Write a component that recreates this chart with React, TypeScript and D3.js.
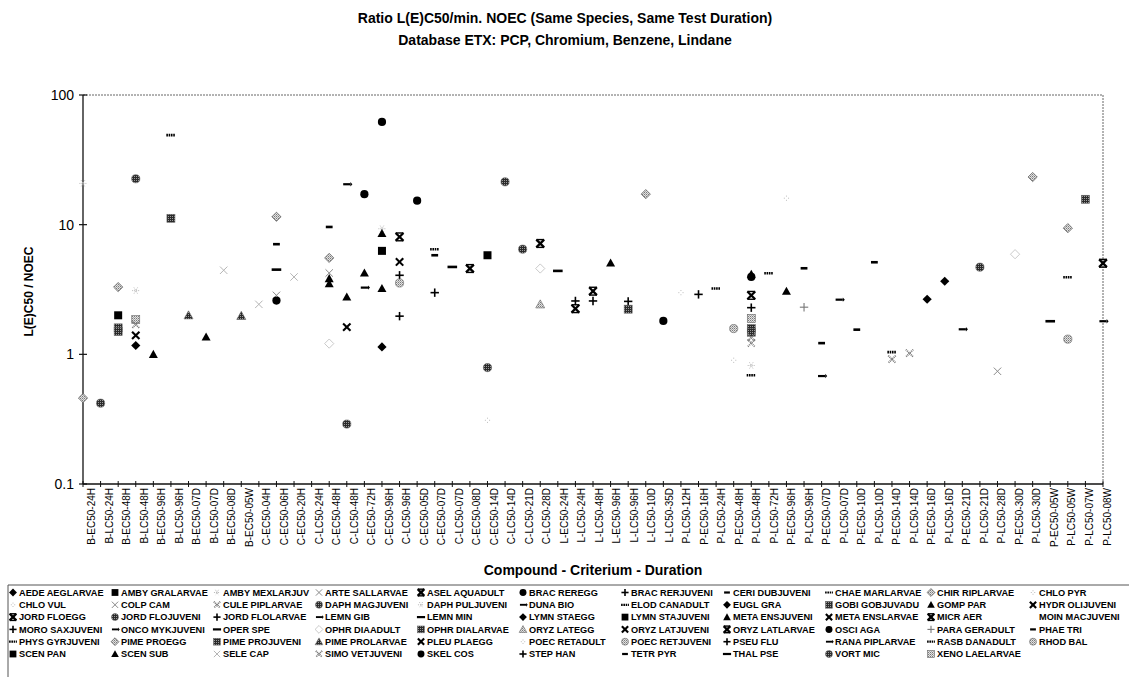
import React from "react";
import * as d3 from "d3";

// Test endpoint categories: compound (B = benzene, C = chromium, L = lindane, P = PCP) - criterion - duration
const categories = [
  "B-EC50-24H", "B-LC50-24H", "B-EC50-48H", "B-LC50-48H", "B-EC50-96H", "B-LC50-96H",
  "B-EC50-07D", "B-LC50-07D", "B-EC50-08D", "B-EC50-05W", "C-EC50-04H", "C-EC50-06H",
  "C-EC50-20H", "C-LC50-24H", "C-EC50-48H", "C-LC50-48H", "C-EC50-72H", "C-EC50-96H",
  "C-LC50-96H", "C-EC50-05D", "C-EC50-07D", "C-LC50-07D", "C-EC50-08D", "C-EC50-14D",
  "C-LC50-14D", "C-LC50-21D", "C-LC50-28D", "L-EC50-24H", "L-LC50-24H", "L-LC50-48H",
  "L-EC50-96H", "L-LC50-96H", "L-LC50-10D", "L-LC50-35D", "P-LC50-12H", "P-EC50-16H",
  "P-LC50-24H", "P-EC50-48H", "P-LC50-48H", "P-LC50-72H", "P-EC50-96H", "P-LC50-96H",
  "P-EC50-07D", "P-LC50-07D", "P-EC50-10D", "P-LC50-10D", "P-EC50-14D", "P-LC50-14D",
  "P-EC50-16D", "P-LC50-16D", "P-EC50-21D", "P-LC50-21D", "P-LC50-28D", "P-EC50-30D",
  "P-LC50-30D", "P-EC50-05W", "P-LC50-05W", "P-LC50-07W", "P-LC50-08W",
];

// Species in legend order (row by row, 11 per row)
const legendSpecies = [
  "AEDE AEGLARVAE", "AMBY GRALARVAE", "AMBY MEXLARJUV", "ARTE SALLARVAE", "ASEL AQUADULT",
  "BRAC REREGG", "BRAC RERJUVENI", "CERI DUBJUVENI", "CHAE MARLARVAE", "CHIR RIPLARVAE", "CHLO PYR",
  "CHLO VUL", "COLP CAM", "CULE PIPLARVAE", "DAPH MAGJUVENI", "DAPH PULJUVENI",
  "DUNA BIO", "ELOD CANADULT", "EUGL GRA", "GOBI GOBJUVADU", "GOMP PAR", "HYDR OLIJUVENI",
  "JORD FLOEGG", "JORD FLOJUVENI", "JORD FLOLARVAE", "LEMN GIB", "LEMN MIN",
  "LYMN STAEGG", "LYMN STAJUVENI", "META ENSJUVENI", "META ENSLARVAE", "MICR AER", "MOIN MACJUVENI",
  "MORO SAXJUVENI", "ONCO MYKJUVENI", "OPER SPE", "OPHR DIAADULT", "OPHR DIALARVAE",
  "ORYZ LATEGG", "ORYZ LATJUVENI", "ORYZ LATLARVAE", "OSCI AGA", "PARA GERADULT", "PHAE TRI",
  "PHYS GYRJUVENI", "PIME PROEGG", "PIME PROJUVENI", "PIME PROLARVAE", "PLEU PLAEGG",
  "POEC RETADULT", "POEC RETJUVENI", "PSEU FLU", "RANA PIPLARVAE", "RASB DANADULT", "RHOD BAL",
  "SCEN PAN", "SCEN SUB", "SELE CAP", "SIMO VETJUVENI", "SKEL COS",
  "STEP HAN", "TETR PYR", "THAL PSE", "VORT MIC", "XENO LAELARVAE",
];

// [category, species, L(E)C50 / min. NOEC ratio]
const benzeneRatios: [string, string, number][] = [
  ["B-EC50-24H", "CHIR RIPLARVAE", 0.46],
  ["B-EC50-24H", "AMBY MEXLARJUV", 20.8],
  ["B-LC50-24H", "DAPH MAGJUVENI", 0.42],
  ["B-EC50-48H", "PIME PROEGG", 3.3],
  ["B-EC50-48H", "AMBY GRALARVAE", 2.0],
  ["B-EC50-48H", "GOBI GOBJUVADU", 1.6],
  ["B-EC50-48H", "PIME PROJUVENI", 1.5],
  ["B-LC50-48H", "VORT MIC", 22.6],
  ["B-LC50-48H", "DAPH PULJUVENI", 3.1],
  ["B-LC50-48H", "XENO LAELARVAE", 1.85],
  ["B-LC50-48H", "CULE PIPLARVAE", 1.7],
  ["B-LC50-48H", "ORYZ LATJUVENI", 1.4],
  ["B-LC50-48H", "AEDE AEGLARVAE", 1.17],
  ["B-EC50-96H", "SCEN SUB", 1.0],
  ["B-LC50-96H", "RASB DANADULT", 49],
  ["B-LC50-96H", "PIME PROJUVENI", 11.2],
  ["B-EC50-07D", "PIME PROLARVAE", 2.0],
  ["B-LC50-07D", "META ENSJUVENI", 1.36],
  ["B-EC50-08D", "SELE CAP", 4.45],
  ["B-EC50-05W", "PIME PROLARVAE", 1.98],
];

const chromiumRatios: [string, string, number][] = [
  ["C-EC50-04H", "SELE CAP", 2.43],
  ["C-EC50-06H", "CHIR RIPLARVAE", 11.5],
  ["C-EC50-06H", "CERI DUBJUVENI", 7.07],
  ["C-EC50-06H", "OPER SPE", 4.5],
  ["C-EC50-06H", "ARTE SALLARVAE", 2.85],
  ["C-EC50-06H", "BRAC REREGG", 2.6],
  ["C-EC50-20H", "SELE CAP", 3.95],
  ["C-EC50-48H", "TETR PYR", 9.6],
  ["C-EC50-48H", "PIME PROEGG", 5.54],
  ["C-EC50-48H", "ARTE SALLARVAE", 4.24],
  ["C-EC50-48H", "META ENSJUVENI", 3.84],
  ["C-EC50-48H", "GOMP PAR", 3.51],
  ["C-EC50-48H", "OPHR DIAADULT", 1.21],
  ["C-LC50-48H", "LEMN GIB", 20.5],
  ["C-LC50-48H", "GOMP PAR", 2.77],
  ["C-LC50-48H", "HYDR OLIJUVENI", 1.62],
  ["C-LC50-48H", "JORD FLOJUVENI", 0.29],
  ["C-EC50-72H", "SKEL COS", 17.2],
  ["C-EC50-72H", "META ENSJUVENI", 4.24],
  ["C-EC50-72H", "DUNA BIO", 3.27],
  ["C-EC50-96H", "OSCI AGA", 62],
  ["C-EC50-96H", "AMBY MEXLARJUV", 9.3],
  ["C-EC50-96H", "SCEN SUB", 8.55],
  ["C-EC50-96H", "SCEN PAN", 6.28],
  ["C-EC50-96H", "GOMP PAR", 3.22],
  ["C-EC50-96H", "EUGL GRA", 1.14],
  ["C-LC50-96H", "MICR AER", 8.05],
  ["C-LC50-96H", "META ENSLARVAE", 5.16],
  ["C-LC50-96H", "BRAC RERJUVENI", 4.07],
  ["C-LC50-96H", "POEC RETJUVENI", 3.55],
  ["C-LC50-96H", "PSEU FLU", 1.97],
  ["C-EC50-05D", "BRAC REREGG", 15.3],
  ["C-EC50-07D", "CHAE MARLARVAE", 6.47],
  ["C-EC50-07D", "PHAE TRI", 5.81],
  ["C-EC50-07D", "JORD FLOLARVAE", 2.99],
  ["C-LC50-07D", "LEMN MIN", 4.72],
  ["C-EC50-08D", "ASEL AQUADULT", 4.59],
  ["C-EC50-14D", "LYMN STAJUVENI", 5.81],
  ["C-EC50-14D", "DAPH MAGJUVENI", 0.79],
  ["C-EC50-14D", "POEC RETADULT", 0.31],
  ["C-LC50-14D", "DAPH MAGJUVENI", 21.4],
  ["C-LC50-21D", "JORD FLOJUVENI", 6.47],
  ["C-LC50-28D", "JORD FLOEGG", 7.16],
  ["C-LC50-28D", "OPHR DIAADULT", 4.59],
  ["C-LC50-28D", "ORYZ LATEGG", 2.43],
];

const lindaneRatios: [string, string, number][] = [
  ["L-EC50-24H", "THAL PSE", 4.4],
  ["L-LC50-24H", "MORO SAXJUVENI", 2.58],
  ["L-LC50-24H", "ORYZ LATLARVAE", 2.25],
  ["L-LC50-48H", "ASEL AQUADULT", 3.07],
  ["L-LC50-48H", "STEP HAN", 2.58],
  ["L-EC50-96H", "SCEN SUB", 5.07],
  ["L-LC50-96H", "BRAC RERJUVENI", 2.56],
  ["L-LC50-96H", "OPHR DIALARVAE", 2.23],
  ["L-LC50-10D", "CHIR RIPLARVAE", 17.2],
  ["L-LC50-35D", "OSCI AGA", 1.81],
];

const pcpRatios: [string, string, number][] = [
  ["P-LC50-12H", "CHLO PYR", 2.99],
  ["P-EC50-16H", "PSEU FLU", 2.9],
  ["P-LC50-24H", "RASB DANADULT", 3.22],
  ["P-EC50-48H", "POEC RETJUVENI", 1.58],
  ["P-EC50-48H", "CHLO VUL", 0.9],
  ["P-LC50-48H", "META ENSJUVENI", 4.15],
  ["P-LC50-48H", "OSCI AGA", 3.95],
  ["P-LC50-48H", "ORYZ LATLARVAE", 2.85],
  ["P-LC50-48H", "PSEU FLU", 2.29],
  ["P-LC50-48H", "XENO LAELARVAE", 1.89],
  ["P-LC50-48H", "PIME PROJUVENI", 1.58],
  ["P-LC50-48H", "GOBI GOBJUVADU", 1.48],
  ["P-LC50-48H", "SIMO VETJUVENI", 1.35],
  ["P-LC50-48H", "CULE PIPLARVAE", 1.22],
  ["P-LC50-48H", "AMBY MEXLARJUV", 0.82],
  ["P-LC50-48H", "ELOD CANADULT", 0.69],
  ["P-LC50-72H", "CHAE MARLARVAE", 4.22],
  ["P-EC50-96H", "CHLO VUL", 16],
  ["P-EC50-96H", "GOMP PAR", 3.07],
  ["P-LC50-96H", "CERI DUBJUVENI", 4.61],
  ["P-LC50-96H", "PARA GERADULT", 2.31],
  ["P-EC50-07D", "TETR PYR", 1.22],
  ["P-EC50-07D", "ONCO MYKJUVENI", 0.68],
  ["P-LC50-07D", "LEMN GIB", 2.64],
  ["P-EC50-10D", "PHAE TRI", 1.55],
  ["P-LC50-10D", "CERI DUBJUVENI", 5.13],
  ["P-EC50-14D", "PHYS GYRJUVENI", 1.04],
  ["P-EC50-14D", "SIMO VETJUVENI", 0.915],
  ["P-LC50-14D", "CULE PIPLARVAE", 1.02],
  ["P-EC50-16D", "AEDE AEGLARVAE", 2.66],
  ["P-LC50-16D", "LYMN STAEGG", 3.66],
  ["P-EC50-21D", "RANA PIPLARVAE", 1.56],
  ["P-LC50-21D", "VORT MIC", 4.7],
  ["P-LC50-28D", "ARTE SALLARVAE", 0.74],
  ["P-EC50-30D", "OPHR DIAADULT", 5.92],
  ["P-LC50-30D", "CHIR RIPLARVAE", 23.3],
  ["P-EC50-05W", "OPER SPE", 1.8],
  ["P-LC50-05W", "PIME PROEGG", 9.4],
  ["P-LC50-05W", "ELOD CANADULT", 3.93],
  ["P-LC50-05W", "RHOD BAL", 1.31],
  ["P-LC50-07W", "GOBI GOBJUVADU", 15.7],
  ["P-LC50-08W", "MICR AER", 5.04],
  ["P-LC50-08W", "DUNA BIO", 1.8],
];

const yTicks = [0.1, 1, 10, 100];

type Shape =
  | "diamond" | "square" | "circle" | "triangle" | "cross" | "hourglass" | "plus"
  | "dash" | "bar" | "dotdash" | "arrow" | "asterisk" | "dots" | "none";
type Tone = "black" | "dark" | "light" | "grey" | "faint" | "dotted";

const markerStyle: Record<string, [Shape, Tone]> = {
  "AEDE AEGLARVAE": ["diamond", "black"],
  "AMBY GRALARVAE": ["square", "black"],
  "AMBY MEXLARJUV": ["asterisk", "faint"],
  "ARTE SALLARVAE": ["cross", "grey"],
  "ASEL AQUADULT": ["hourglass", "black"],
  "BRAC REREGG": ["circle", "black"],
  "BRAC RERJUVENI": ["plus", "black"],
  "CERI DUBJUVENI": ["dash", "black"],
  "CHAE MARLARVAE": ["dotdash", "black"],
  "CHIR RIPLARVAE": ["diamond", "light"],
  "CHLO PYR": ["dots", "faint"],
  "CHLO VUL": ["dots", "faint"],
  "COLP CAM": ["cross", "grey"],
  "CULE PIPLARVAE": ["cross", "dotted"],
  "DAPH MAGJUVENI": ["circle", "dark"],
  "DAPH PULJUVENI": ["asterisk", "faint"],
  "DUNA BIO": ["arrow", "black"],
  "ELOD CANADULT": ["dotdash", "black"],
  "EUGL GRA": ["diamond", "black"],
  "GOBI GOBJUVADU": ["square", "dark"],
  "GOMP PAR": ["triangle", "black"],
  "HYDR OLIJUVENI": ["cross", "black"],
  "JORD FLOEGG": ["hourglass", "black"],
  "JORD FLOJUVENI": ["circle", "dark"],
  "JORD FLOLARVAE": ["plus", "black"],
  "LEMN GIB": ["arrow", "black"],
  "LEMN MIN": ["bar", "black"],
  "LYMN STAEGG": ["diamond", "black"],
  "LYMN STAJUVENI": ["square", "black"],
  "META ENSJUVENI": ["triangle", "black"],
  "META ENSLARVAE": ["cross", "black"],
  "MICR AER": ["hourglass", "black"],
  "MOIN MACJUVENI": ["none", "faint"],
  "MORO SAXJUVENI": ["plus", "black"],
  "ONCO MYKJUVENI": ["arrow", "black"],
  "OPER SPE": ["bar", "black"],
  "OPHR DIAADULT": ["diamond", "faint"],
  "OPHR DIALARVAE": ["square", "dark"],
  "ORYZ LATEGG": ["triangle", "light"],
  "ORYZ LATJUVENI": ["cross", "black"],
  "ORYZ LATLARVAE": ["hourglass", "black"],
  "OSCI AGA": ["circle", "black"],
  "PARA GERADULT": ["plus", "grey"],
  "PHAE TRI": ["dash", "black"],
  "PHYS GYRJUVENI": ["dotdash", "black"],
  "PIME PROEGG": ["diamond", "light"],
  "PIME PROJUVENI": ["square", "dark"],
  "PIME PROLARVAE": ["triangle", "dark"],
  "PLEU PLAEGG": ["cross", "black"],
  "POEC RETADULT": ["dots", "faint"],
  "POEC RETJUVENI": ["circle", "light"],
  "PSEU FLU": ["plus", "black"],
  "RANA PIPLARVAE": ["arrow", "black"],
  "RASB DANADULT": ["dotdash", "black"],
  "RHOD BAL": ["circle", "light"],
  "SCEN PAN": ["square", "black"],
  "SCEN SUB": ["triangle", "black"],
  "SELE CAP": ["cross", "faint"],
  "SIMO VETJUVENI": ["cross", "dotted"],
  "SKEL COS": ["circle", "black"],
  "STEP HAN": ["plus", "black"],
  "TETR PYR": ["dash", "black"],
  "THAL PSE": ["bar", "black"],
  "VORT MIC": ["circle", "dark"],
  "XENO LAELARVAE": ["square", "light"],
};

const W = 1129;
const H = 677;
const plot = { left: 83, right: 1103, top: 95, bottom: 484 };
const FONT = "'Liberation Sans', Arial, Helvetica, sans-serif";

const toneFill: Record<Tone, string> = {
  black: "#000",
  dark: "url(#htDark)",
  light: "url(#htLight)",
  grey: "#8a8a8a",
  faint: "#c4c4c4",
  dotted: "url(#htLight)",
};

function Marker({ shape, tone, cx, cy, k = 1 }: { shape: Shape; tone: Tone; cx: number; cy: number; k?: number }) {
  const fill = toneFill[tone];
  const edge = tone === "black" ? "none" : tone === "faint" ? "#bdbdbd" : "#666";
  switch (shape) {
    case "diamond": {
      const r = 4.6 * k;
      return <path d={`M${cx},${cy - r}L${cx + r},${cy}L${cx},${cy + r}L${cx - r},${cy}Z`} fill={tone === "faint" ? "#fff" : fill} stroke={edge} strokeWidth={0.8} />;
    }
    case "square": {
      const r = 4 * k;
      return <rect x={cx - r} y={cy - r} width={2 * r} height={2 * r} fill={fill} stroke={edge} strokeWidth={0.6} />;
    }
    case "circle": {
      const r = 4.1 * k;
      return <circle cx={cx} cy={cy} r={r} fill={fill} stroke={edge} strokeWidth={0.6} />;
    }
    case "triangle": {
      const r = 4.5 * k;
      return <path d={`M${cx},${cy - r}L${cx + r},${cy + r * 0.8}L${cx - r},${cy + r * 0.8}Z`} fill={fill} stroke={edge} strokeWidth={0.6} />;
    }
    case "cross": {
      const r = 3.7 * k;
      const stroke = tone === "black" ? "#000" : tone === "grey" ? "#8a8a8a" : tone === "faint" ? "#b5b5b5" : "#777";
      const sw = tone === "black" ? 2.1 : tone === "dotted" ? 1.8 : 1;
      const dash = tone === "dotted" ? "1 0.8" : undefined;
      return (
        <g stroke={stroke} strokeWidth={sw} strokeDasharray={dash}>
          <line x1={cx - r} y1={cy - r} x2={cx + r} y2={cy + r} />
          <line x1={cx + r} y1={cy - r} x2={cx - r} y2={cy + r} />
        </g>
      );
    }
    case "hourglass": {
      const r = 3.9 * k;
      return (
        <g stroke="#000">
          <line x1={cx - r} y1={cy - r} x2={cx + r} y2={cy + r} strokeWidth={2.3} />
          <line x1={cx + r} y1={cy - r} x2={cx - r} y2={cy + r} strokeWidth={2.3} />
          <line x1={cx - r} y1={cy - r} x2={cx + r} y2={cy - r} strokeWidth={1.4} />
          <line x1={cx - r} y1={cy + r} x2={cx + r} y2={cy + r} strokeWidth={1.4} />
        </g>
      );
    }
    case "plus": {
      const r = 4.2 * k;
      const stroke = tone === "black" ? "#000" : "#777";
      const sw = tone === "black" ? 1.6 : 1.1;
      return (
        <g stroke={stroke} strokeWidth={sw}>
          <line x1={cx - r} y1={cy} x2={cx + r} y2={cy} />
          <line x1={cx} y1={cy - r} x2={cx} y2={cy + r} />
        </g>
      );
    }
    case "dash": {
      const w = 3.4 * k;
      return <rect x={cx - w} y={cy - 1.3 * k} width={2 * w} height={2.6 * k} fill="#000" />;
    }
    case "bar": {
      const w = 4.8 * k;
      return <rect x={cx - w} y={cy - 1.3 * k} width={2 * w} height={2.6 * k} fill="#000" />;
    }
    case "dotdash": {
      const w = 4.6 * k;
      return <line x1={cx - w} y1={cy} x2={cx + w} y2={cy} stroke="#000" strokeWidth={2.6 * k} strokeDasharray="1.6 0.7" />;
    }
    case "arrow": {
      const w = 3.6 * k;
      return (
        <g fill="#000">
          <rect x={cx - w} y={cy - 1.1 * k} width={2 * w} height={2.2 * k} />
          <path d={`M${cx + w},${cy - 2.2 * k}L${cx + w + 2 * k},${cy}L${cx + w},${cy + 2.2 * k}Z`} />
        </g>
      );
    }
    case "asterisk": {
      const r = 3.6 * k;
      return (
        <g stroke="#b9b9b9" strokeWidth={1} strokeDasharray="1 1">
          <line x1={cx - r} y1={cy} x2={cx + r} y2={cy} />
          <line x1={cx - r * 0.5} y1={cy - r * 0.87} x2={cx + r * 0.5} y2={cy + r * 0.87} />
          <line x1={cx + r * 0.5} y1={cy - r * 0.87} x2={cx - r * 0.5} y2={cy + r * 0.87} />
        </g>
      );
    }
    case "dots": {
      const r = 2.6 * k;
      return (
        <g fill="#bdbdbd">
          <rect x={cx - r} y={cy - 0.5} width={1} height={1} />
          <rect x={cx + r - 1} y={cy - 0.5} width={1} height={1} />
          <rect x={cx - 0.5} y={cy - r} width={1} height={1} />
          <rect x={cx - 0.5} y={cy + r - 1} width={1} height={1} />
        </g>
      );
    }
    default:
      return null;
  }
}

export default function App() {
  const x = d3.scalePoint<string>().domain(categories).range([plot.left, plot.right]);
  // Rotated category labels sit just to the right of their tick
  const labelX = d3.scalePoint<string>().domain(categories).range([plot.left + 8.5, plot.right + 4]);
  const y = d3.scaleLog().domain([0.1, 100]).range([plot.bottom, plot.top]);

  const observations = [...benzeneRatios, ...chromiumRatios, ...lindaneRatios, ...pcpRatios];

  const legendCols = 11;
  const legendCol = d3.scaleLinear().domain([0, 1]).range([8, 110]);
  const legendRow = d3.scaleLinear().domain([0, 1]).range([592.5, 604.8]);

  return (
    <svg
      width={W}
      height={H}
      viewBox={`0 0 ${W} ${H}`}
      style={{ position: "absolute", left: 0, top: 0, display: "block", background: "#fff" }}
      fontFamily={FONT}
    >
      <defs>
        <pattern id="htDark" width={2} height={2} patternUnits="userSpaceOnUse">
          <rect width={2} height={2} fill="#2a2a2a" />
          <rect width={1} height={1} fill="#9a9a9a" />
        </pattern>
        <pattern id="htLight" width={2} height={2} patternUnits="userSpaceOnUse">
          <rect width={2} height={2} fill="#e2e2e2" />
          <rect width={1} height={1} fill="#7a7a7a" />
          <rect x={1} y={1} width={1} height={1} fill="#a8a8a8" />
        </pattern>
      </defs>

      {/* Titles */}
      <text x={565} y={23} textAnchor="middle" fontSize={14} fontWeight="bold">
        Ratio L(E)C50/min. NOEC (Same Species, Same Test Duration)
      </text>
      <text x={565} y={45} textAnchor="middle" fontSize={14} fontWeight="bold">
        Database ETX: PCP, Chromium, Benzene, Lindane
      </text>

      {/* Plot frame */}
      <line x1={plot.left} y1={plot.top} x2={plot.right} y2={plot.top} stroke="#666" strokeWidth={1} strokeDasharray="2 1" />
      <line x1={plot.right} y1={plot.top} x2={plot.right} y2={plot.bottom} stroke="#666" strokeWidth={1} strokeDasharray="2 1" />
      <line x1={plot.left} y1={plot.top} x2={plot.left} y2={plot.bottom} stroke="#111" strokeWidth={1.3} />
      <line x1={plot.left} y1={plot.bottom} x2={plot.right} y2={plot.bottom} stroke="#111" strokeWidth={1.3} />

      {/* Y axis ticks and labels */}
      {yTicks.map((t) => (
        <g key={t}>
          <line x1={plot.left - 4} x2={plot.left + 4} y1={y(t)} y2={y(t)} stroke="#111" strokeWidth={1.2} />
          <text x={plot.left - 9} y={y(t)} dy="0.35em" textAnchor="end" fontSize={14}>
            {t}
          </text>
        </g>
      ))}

      {/* X axis ticks and labels */}
      {categories.map((c) => (
        <g key={c}>
          <line x1={x(c)!} x2={x(c)!} y1={plot.bottom - 3} y2={plot.bottom + 3} stroke="#111" strokeWidth={1} />
          <text
            transform={`translate(${labelX(c)!},${plot.bottom + 4}) rotate(-90)`}
            textAnchor="end"
            dominantBaseline="central"
            fontSize={10}
          >
            {c}
          </text>
        </g>
      ))}

      {/* Axis titles */}
      <text transform={`translate(33,${(plot.top + plot.bottom) / 2 + 2}) rotate(-90)`} textAnchor="middle" fontSize={12} fontWeight="bold">
        L(E)C50 / NOEC
      </text>
      <text x={593} y={575} textAnchor="middle" fontSize={14} fontWeight="bold">
        Compound - Criterium - Duration
      </text>

      {/* Data points */}
      {observations.map(([cat, sp, v], i) => {
        const [shape, tone] = markerStyle[sp];
        return <Marker key={i} shape={shape} tone={tone} cx={x(cat)!} cy={y(v)} />;
      })}

      {/* Legend */}
      <path d={`M8,${H + 2}V585H${W + 2}`} fill="none" stroke="#555" strokeWidth={1} />
      {legendSpecies.map((sp, i) => {
        const col = i % legendCols;
        const row = Math.floor(i / legendCols);
        const lx = legendCol(col);
        const ly = legendRow(row);
        const [shape, tone] = markerStyle[sp];
        return (
          <g key={sp}>
            <Marker shape={shape} tone={tone} cx={lx + 5} cy={ly} k={0.85} />
            <text x={lx + 11} y={ly} dy="0.35em" fontSize={9.2} fontWeight="bold">
              {sp}
            </text>
          </g>
        );
      })}
    </svg>
  );
}
